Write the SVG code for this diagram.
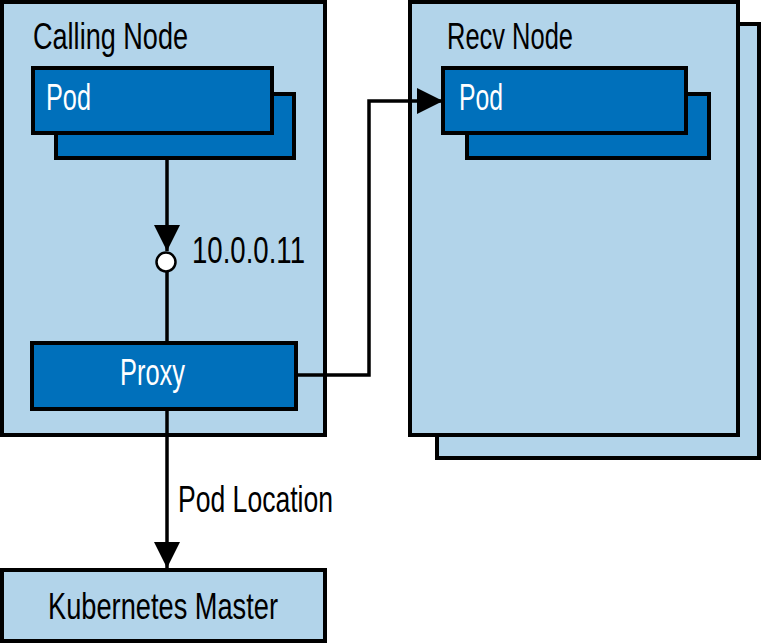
<svg xmlns="http://www.w3.org/2000/svg" width="762" height="644" viewBox="0 0 762 644">
<style>
.light{fill:#b2d4ea;stroke:#000;stroke-width:4}
.dark{fill:#0070bb;stroke:#000;stroke-width:4}
.t{font-family:"Liberation Sans",Arial,sans-serif;font-size:36px;fill:#000}
.w{fill:#fff}
.conn{fill:none;stroke:#000;stroke-width:3.5}
</style>
<defs>
<marker id="ah" viewBox="0 0 10 10" refX="10" refY="5" markerWidth="7.5" markerHeight="7.5" markerUnits="strokeWidth" orient="auto">
<path d="M0,0 L10,5 L0,10 Z" fill="#000"/>
</marker>
</defs>
<rect x="0" y="0" width="762" height="644" fill="#fff"/>
<g id="calling-node">
<rect class="light" x="2" y="2" width="323" height="433"/>
<text class="t" x="33" y="49" textLength="155" lengthAdjust="spacingAndGlyphs">Calling Node</text>
</g>
<g id="calling-pod">
<rect class="dark" x="56" y="94" width="238" height="64"/>
<rect class="dark" x="33" y="68" width="239" height="65"/>
<text class="t w" x="46" y="110" textLength="45" lengthAdjust="spacingAndGlyphs">Pod</text>
</g>
<g id="recv-node">
<rect class="light" x="437" y="24" width="322" height="434"/>
<rect class="light" x="410" y="2" width="328" height="433"/>
<text class="t" x="447" y="49" textLength="126" lengthAdjust="spacingAndGlyphs">Recv Node</text>
</g>
<g id="recv-pod">
<rect class="dark" x="467" y="94" width="242" height="64"/>
<rect class="dark" x="443" y="68" width="243" height="65"/>
<text class="t w" x="459" y="110" textLength="44" lengthAdjust="spacingAndGlyphs">Pod</text>
</g>
<g id="proxy">
<rect class="dark" x="32" y="343" width="264" height="66"/>
<text class="t w" x="120" y="385" textLength="65" lengthAdjust="spacingAndGlyphs">Proxy</text>
</g>
<g id="kubernetes-master">
<rect class="light" x="2" y="570" width="323" height="71"/>
<text class="t" x="48" y="619" textLength="230" lengthAdjust="spacingAndGlyphs">Kubernetes Master</text>
</g>
<g id="connectors">
<path class="conn" d="M167,160 V251" marker-end="url(#ah)"/>
<path class="conn" d="M167,272 V343"/>
<path class="conn" d="M296,375 H369 V101 H443" marker-end="url(#ah)"/>
<path class="conn" d="M167,409 V568" marker-end="url(#ah)"/>
</g>
<g id="ip">
<circle cx="166" cy="262" r="9.5" fill="#fff" stroke="#000" stroke-width="2.5"/>
<text class="t" x="192" y="263" textLength="113" lengthAdjust="spacingAndGlyphs">10.0.0.11</text>
</g>
<text class="t" x="178" y="512" textLength="155" lengthAdjust="spacingAndGlyphs">Pod Location</text>
</svg>
